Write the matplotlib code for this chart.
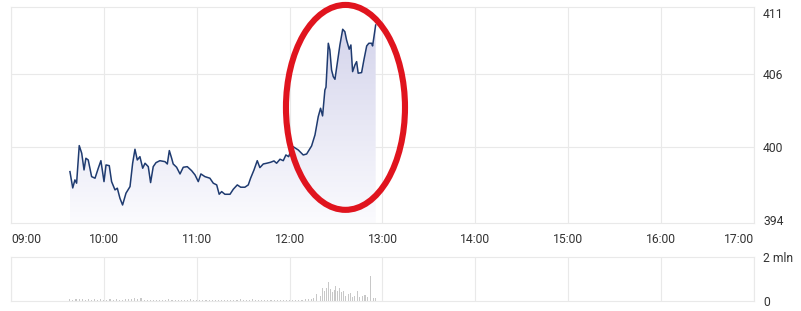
import numpy as np
import matplotlib.pyplot as plt
from matplotlib.patches import Ellipse, Polygon
from matplotlib.colors import LinearSegmentedColormap

plt.rcParams['font.family'] = ['Roboto', 'DejaVu Sans']

# minutes after 09:00 and last price
t_min = [38.1, 39.9, 41.3, 42.4, 44.1, 45.7, 47.2, 48.4, 49.9, 52.1,
         54.3, 56.4, 58.1, 60.1, 61.4, 63.5, 65.0, 67.2, 68.7, 70.4,
         72.1, 74.3, 76.9, 78.6, 80.1, 81.6, 83.3, 85.1, 86.6, 88.7,
         90.2, 91.9, 93.7, 96.2, 99.5, 101.0, 102.3, 103.8, 104.8, 107.0,
         109.2, 111.3, 113.9, 116.7, 118.9, 121.0, 122.7, 125.3, 128.5, 130.7,
         132.9, 134.5, 136.1, 138.2, 141.5, 143.6, 146.2, 148.4, 151.1, 153.3,
         154.8, 157.0, 159.1, 160.8, 163.0, 165.2, 167.7, 169.9, 171.6, 173.8,
         175.9, 177.6, 179.4, 181.3, 182.3, 185.6, 188.8, 191.0, 194.2, 196.4,
         198.5, 200.0, 201.3, 202.8, 203.5, 205.0, 206.0, 207.1, 208.2, 209.3,
         210.8, 212.5, 214.3, 215.7, 216.8, 218.5, 219.6, 220.7, 222.2, 223.3,
         224.3, 226.5, 228.0, 229.8, 231.2, 233.0, 233.6, 234.5, 235.6]
price = [397.97, 396.63, 397.29, 397.02, 400.11, 399.48, 398.11, 399.07, 398.93, 397.56,
         397.43, 398.25, 398.87, 397.15, 398.52, 398.46, 397.15, 396.47, 396.61, 395.78,
         395.23, 396.20, 396.74, 398.66, 399.81, 398.93, 399.20, 398.25, 398.66, 398.38,
         397.07, 398.38, 398.71, 398.87, 398.79, 398.60, 399.70, 399.07, 398.60, 398.33,
         397.78, 398.33, 398.38, 398.05, 397.70, 397.15, 397.78, 397.56, 397.43, 397.02,
         396.88, 396.11, 396.33, 396.11, 396.11, 396.52, 396.88, 396.69, 396.69, 396.88,
         397.43, 398.11, 398.87, 398.30, 398.60, 398.66, 398.74, 398.85, 398.66, 398.99,
         398.87, 399.34, 399.20, 399.89, 400.02, 399.75, 399.34, 399.42, 400.08, 400.99,
         402.49, 403.18, 402.55, 404.68, 404.91, 408.52, 407.97, 406.33, 405.78, 405.56,
         406.88, 408.38, 409.67, 409.47, 408.79, 408.03, 408.38, 406.19, 406.74, 407.01,
         406.06, 406.11, 407.15, 408.30, 408.52, 408.52, 408.30, 409.06, 410.02]

# volume bars (minutes after 09:00, millions)
vol_t = [38, 40, 42, 44, 46, 48, 50, 52, 54, 56, 58, 60, 62, 64, 66, 68, 70, 72, 74, 76,
         78, 80, 82, 84, 86, 88, 90, 92, 94, 96, 98, 100, 102, 104, 106, 108, 110, 112, 114, 116,
         118, 120, 122, 124, 126, 128, 130, 132, 134, 136, 138, 140, 142, 144, 146, 148, 150, 152, 154, 156,
         158, 160, 162, 164, 166, 168, 170, 172, 174, 176, 178, 180, 182, 184, 186, 188, 190, 192, 194,
         195.7, 197.6, 200.0, 201.5, 202.8, 203.9, 205.2, 206.5, 207.8, 208.8,
         209.9, 211.0, 212.5, 213.8, 215.1, 216.4, 217.9, 219.4, 220.7, 222.2,
         223.9, 225.4, 227.2, 228.7, 230.1, 232.3, 234.0, 235.3]
vol = [0.08, 0.06, 0.09, 0.07, 0.08, 0.05, 0.07, 0.06, 0.08, 0.05, 0.07, 0.06, 0.05, 0.08, 0.06, 0.07, 0.05, 0.06, 0.08, 0.07,
       0.10, 0.13, 0.09, 0.12, 0.06, 0.05, 0.04, 0.05, 0.04, 0.05, 0.06, 0.04, 0.07, 0.05, 0.04, 0.05, 0.06, 0.04, 0.05, 0.07,
       0.05, 0.04, 0.03, 0.05, 0.04, 0.06, 0.03, 0.04, 0.05, 0.03, 0.04, 0.06, 0.04, 0.03, 0.05, 0.07, 0.04, 0.05, 0.06, 0.08,
       0.05, 0.04, 0.06, 0.05, 0.03, 0.05, 0.04, 0.06, 0.04, 0.03, 0.05, 0.04, 0.03, 0.05, 0.04, 0.06, 0.08, 0.07, 0.10,
       0.12, 0.32, 0.23, 0.59, 0.45, 0.59, 0.86, 0.55, 0.41, 0.50,
       0.68, 0.45, 0.58, 0.40, 0.45, 0.23, 0.30, 0.38, 0.20, 0.23,
       0.45, 0.20, 0.23, 0.27, 0.20, 1.15, 0.15, 0.12]

hour_ticks = [0, 60, 120, 180, 240, 300, 360, 420, 480]
hour_labels = ['09:00', '10:00', '11:00', '12:00', '13:00', '14:00', '15:00', '16:00', '17:00']
price_ticks = [394, 400, 406, 411]
price_grid = [400, 406]

grid_c = '#e9e9e9'
text_c = '#333333'
line_c = '#1f3b70'

fig = plt.figure(figsize=(8.01, 3.11), dpi=100)
ax = fig.add_axes([0.0137, 0.283, 0.9276, 0.6945])
axv = fig.add_axes([0.0137, 0.0322, 0.9276, 0.1415])

y0, y1 = 393.75, 411.5

# gradient fill under the price line
cmap = LinearSegmentedColormap.from_list('fill', ['#fbfbfe', '#d1d1ea'])
grad = np.linspace(0, 1, 256).reshape(-1, 1)
img = ax.imshow(grad, cmap=cmap, origin='lower', aspect='auto',
                extent=[t_min[0], t_min[-1], y0, y1], zorder=1)
verts = list(zip(t_min, price)) + [(t_min[-1], y0), (t_min[0], y0)]
poly = Polygon(verts, closed=True, facecolor='none', edgecolor='none')
ax.add_patch(poly)
img.set_clip_path(poly)
ax.set_xlim(0, 480)
ax.set_ylim(y0, y1)

ax.plot(t_min, price, color=line_c, lw=1.1, zorder=3)
for v in price_grid:
    ax.axhline(v, color=grid_c, lw=0.8, zorder=0)

for a in (ax, axv):
    a.set_xticks(hour_ticks)
    a.grid(axis='x', color=grid_c, lw=0.8)
    a.set_axisbelow(True)
    for s in a.spines.values():
        s.set_color(grid_c)
        s.set_linewidth(0.8)
    a.yaxis.tick_right()
    a.tick_params(length=0, colors=text_c, labelsize=8.7)
    a.tick_params(axis='y', pad=6.5)

ax.set_yticks(price_ticks)
ax.set_yticklabels([str(v) for v in price_ticks])
ax.set_xticklabels(hour_labels)
ax.tick_params(axis='x', pad=7)
xl = ax.get_xticklabels()
xl[0].set_horizontalalignment('left')
xl[-1].set_horizontalalignment('right')

# volume panel
axv.bar(vol_t, vol, width=0.7, color='#c8c8c8', zorder=2)
axv.set_xlim(0, 480)
axv.set_ylim(0, 2)
axv.set_yticks([0, 2])
axv.set_yticklabels(['0', '2 mln'])
axv.set_xticklabels([])

# red highlight ellipse
ax.add_patch(Ellipse((216.1, 403.25), 76.9, 16.84, fill=False,
                     edgecolor='#e0141e', lw=4.4, zorder=5, clip_on=False))

fig.savefig('out.png', dpi=100)
